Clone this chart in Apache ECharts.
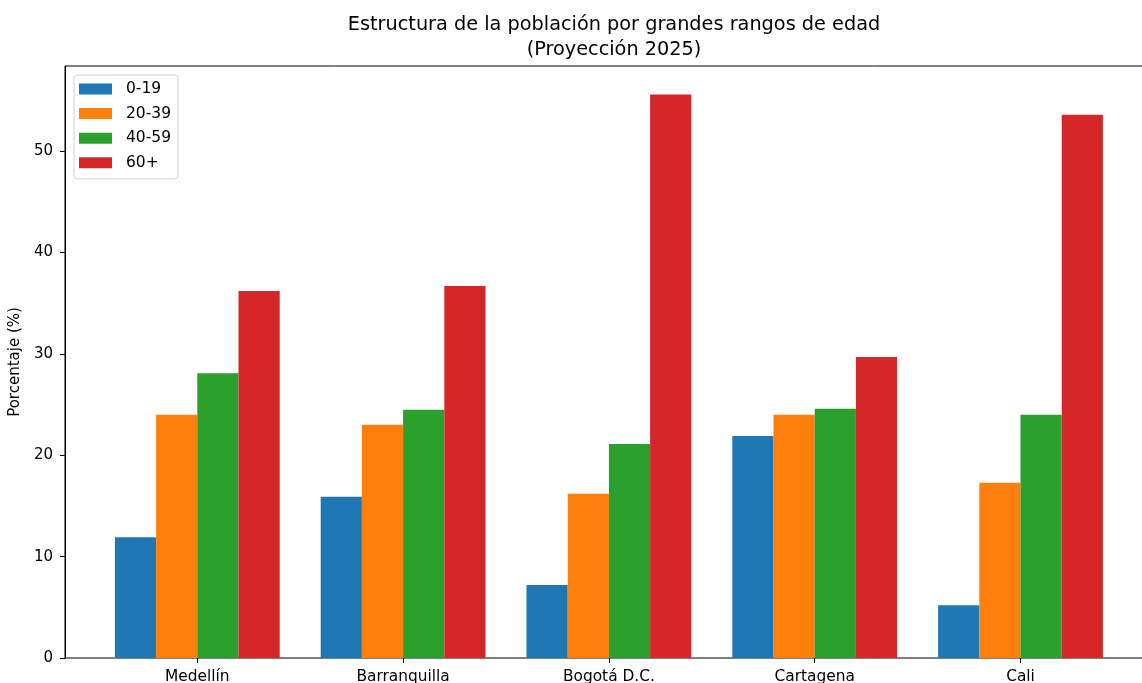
<!DOCTYPE html>
<html>
<head>
<meta charset="utf-8">
<script src="https://cdn.jsdelivr.net/npm/echarts@6/dist/echarts.min.js"></script>
<style>
html,body{margin:0;padding:0;background:#fff;}
#chart{width:1142px;height:683px;}
</style>
</head>
<body>
<div id="chart"></div>
<script>
const cities = ['Medellín', 'Barranquilla', 'Bogotá D.C.', 'Cartagena', 'Cali'];
const age0_19 = [11.9, 15.9, 7.2, 21.9, 5.2];
const age20_39 = [24.0, 23.0, 16.2, 24.0, 17.3];
const age40_59 = [28.1, 24.5, 21.1, 24.6, 24.0];
const age60p = [36.2, 36.7, 55.6, 29.7, 53.6];
const seriesNames = ['0-19', '20-39', '40-59', '60+'];
const yTicks = [0, 10, 20, 30, 40, 50];

const FONT = 'DejaVu Sans';
const colors = ['#1f77b4', '#ff7f0e', '#2ca02c', '#d62728'];
const values = [age0_19, age20_39, age40_59, age60p];
const YMAX = 58.4;

const chart = echarts.init(document.getElementById('chart'), null, {renderer: 'canvas'});
chart.setOption({
  animation: false,
  backgroundColor: '#fff',
  color: colors,
  title: {
    text: 'Estructura de la población por grandes rangos de edad\n(Proyección 2025)',
    left: 609,
    top: 7.5,
    textAlign: 'center',
    textStyle: {fontFamily: FONT, fontSize: 19.3, fontWeight: 'normal', color: '#000', lineHeight: 25}
  },
  legend: {
    data: seriesNames,
    orient: 'vertical',
    left: 74,
    top: 75,
    icon: 'rect',
    itemWidth: 33,
    itemHeight: 11,
    itemGap: 8.6,
    padding: [6, 7, 8, 5],
    borderColor: '#d0d0d0',
    borderWidth: 1,
    borderRadius: 3,
    backgroundColor: 'rgba(255,255,255,0.8)',
    textStyle: {fontFamily: FONT, fontSize: 15.5, color: '#000', padding: [0, 0, 0, 9], lineHeight: 14}
  },
  grid: [
    {left: 65, top: 66, width: 1087, height: 592, show: true, borderColor: '#000', borderWidth: 1,
     backgroundColor: 'transparent', outerBoundsMode: 'none', containLabel: false},
    {left: 94.4, top: 66, width: 1029, height: 592, outerBoundsMode: 'none', containLabel: false}
  ],
  xAxis: [
    {gridIndex: 0, type: 'value', min: 0, max: 1, show: false},
    {
      gridIndex: 1, type: 'category', data: cities,
      axisLine: {show: false},
      axisTick: {show: true, alignWithLabel: true, length: 5, lineStyle: {color: '#000'}},
      axisLabel: {margin: 11, fontFamily: FONT, fontSize: 15.4, color: '#000'},
      splitLine: {show: false}
    }
  ],
  yAxis: [
    {
      gridIndex: 0, type: 'value', min: 0, max: YMAX,
      name: 'Porcentaje (%)', nameLocation: 'middle', nameGap: 39, nameRotate: 90,
      nameTextStyle: {fontFamily: FONT, fontSize: 15, color: '#000'},
      axisLine: {show: true, lineStyle: {color: '#000'}},
      axisTick: {show: true, length: 5, lineStyle: {color: '#000'}, customValues: yTicks},
      axisLabel: {margin: 12, fontFamily: FONT, fontSize: 15, color: '#000', customValues: yTicks},
      splitLine: {show: false}
    },
    {gridIndex: 1, type: 'value', min: 0, max: YMAX, show: false, splitLine: {show: false}}
  ],
  series: seriesNames.map((n, i) => ({
    name: n,
    type: 'bar',
    xAxisIndex: 1,
    yAxisIndex: 1,
    data: values[i],
    barWidth: 41.2,
    barGap: '0%',
    itemStyle: {color: colors[i]}
  }))
});
</script>
</body>
</html>
